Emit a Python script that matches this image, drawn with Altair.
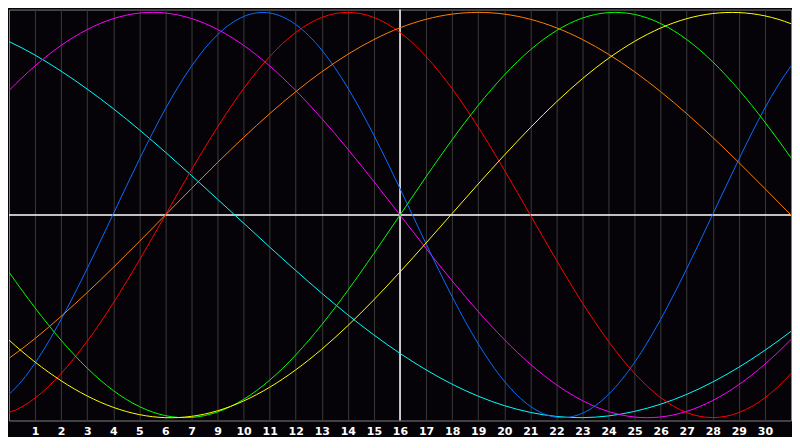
import altair as alt
import pandas as pd

# Day positions (x, in day units across the 30-day window) at which values were read
days = [-2, 0, 2, 4, 6, 8, 10, 12, 14, 16, 18, 20, 22, 24, 26, 28, 30, 32]

physical = [-0.998, -0.885, -0.515, 0.005, 0.524, 0.890, 0.997, 0.814, 0.393,
            -0.142, -0.635, -0.944, -0.978, -0.727, -0.265, 0.275, 0.735, 0.980]
emotional = [-0.975, -0.975, -0.782, -0.434, 0.000, 0.434, 0.782, 0.975, 0.975,
             0.782, 0.434, 0.000, -0.434, -0.782, -0.975, -0.975, -0.782, -0.434]
intellectual = [0.095, -0.282, -0.618, -0.866, -0.990, -0.972, -0.815, -0.541, -0.189,
                0.189, 0.541, 0.815, 0.972, 0.990, 0.866, 0.618, 0.282, -0.095]
intuitive = [0.325, 0.614, 0.837, 0.969, 0.997, 0.916, 0.736, 0.476, 0.165,
             -0.165, -0.476, -0.736, -0.916, -0.997, -0.969, -0.837, -0.614, -0.325]
aesthetic = [-0.364, -0.617, -0.818, -0.949, -1.000, -0.966, -0.850, -0.662, -0.418,
             -0.138, 0.153, 0.431, 0.673, 0.857, 0.969, 0.999, 0.944, 0.809]
awareness = [-0.866, -0.707, -0.500, -0.259, 0.000, 0.259, 0.500, 0.707, 0.866,
             0.966, 1.000, 0.966, 0.866, 0.707, 0.500, 0.259, 0.000, -0.259]
spiritual = [0.953, 0.856, 0.710, 0.525, 0.310, 0.078, -0.158, -0.386, -0.592,
             -0.764, -0.894, -0.974, -1.000, -0.969, -0.885, -0.751, -0.574, -0.366]

series_names = ["Spiritual", "Intuitive", "Physical", "Emotional", "Awareness", "Intellectual", "Aesthetic"]
series_values = [spiritual, intuitive, physical, emotional, awareness, intellectual, aesthetic]
series_colors = ["#00ffff", "#ff00ff", "#0a6cff", "#ff0000", "#ff8000", "#00ff00", "#ffff00"]

# Axis tick labels (day 8 has no label in the reference)
tick_positions = list(range(1, 30))
tick_labels = ["1", "2", "3", "4", "5", "6", "7", "9", "10", "11", "12", "13", "14", "15",
               "16", "17", "18", "19", "20", "21", "22", "23", "24", "25", "26", "27",
               "28", "29", "30"]
today = [15]

rows = []
for name, vals in zip(series_names, series_values):
    for d, v in zip(days, vals):
        rows.append({"day": d, "value": v, "series": name})
df = pd.DataFrame(rows)

label_expr = "[" + ",".join("'" + l + "'" for l in tick_labels) + "][datum.value - 1]"

x_scale = alt.Scale(domain=[0, 30], nice=False, zero=False)
y_scale = alt.Scale(domain=[-1.014, 1.014], nice=False, zero=False)

x_axis = alt.Axis(
    values=tick_positions,
    labelExpr=label_expr,
    grid=True,
    gridColor="#3a3a3a",
    gridWidth=1,
    domain=False,
    ticks=False,
    labelColor="#ffffff",
    labelFont="DejaVu Sans",
    labelFontSize=11,
    labelFontWeight="bold",
    labelPadding=5,
    labelFlush=False,
    title=None,
)

zero_rule = alt.Chart(pd.DataFrame({"v": [0]})).mark_rule(
    color="#ffffff", strokeWidth=1.5
).encode(y=alt.Y("v:Q", scale=y_scale, axis=None))

today_rule = alt.Chart(pd.DataFrame({"d": today})).mark_rule(
    color="#ffffff", strokeWidth=1.5
).encode(x=alt.X("d:Q", scale=x_scale, axis=x_axis))

lines = alt.Chart(df).mark_line(strokeWidth=1, clip=True, interpolate="natural").encode(
    x=alt.X("day:Q", scale=x_scale, axis=x_axis),
    y=alt.Y("value:Q", scale=y_scale, axis=None),
    color=alt.Color("series:N", scale=alt.Scale(domain=series_names, range=series_colors), legend=None),
    detail="series:N",
)

chart = alt.layer(today_rule, zero_rule, lines).properties(
    width=784,
    height=412,
    padding=0,
    background="#050308",
).configure_view(
    stroke="#808080",
    strokeWidth=1,
    fill="#050308",
)

chart.save("out.html", embed_options={"renderer": "svg", "actions": False})
